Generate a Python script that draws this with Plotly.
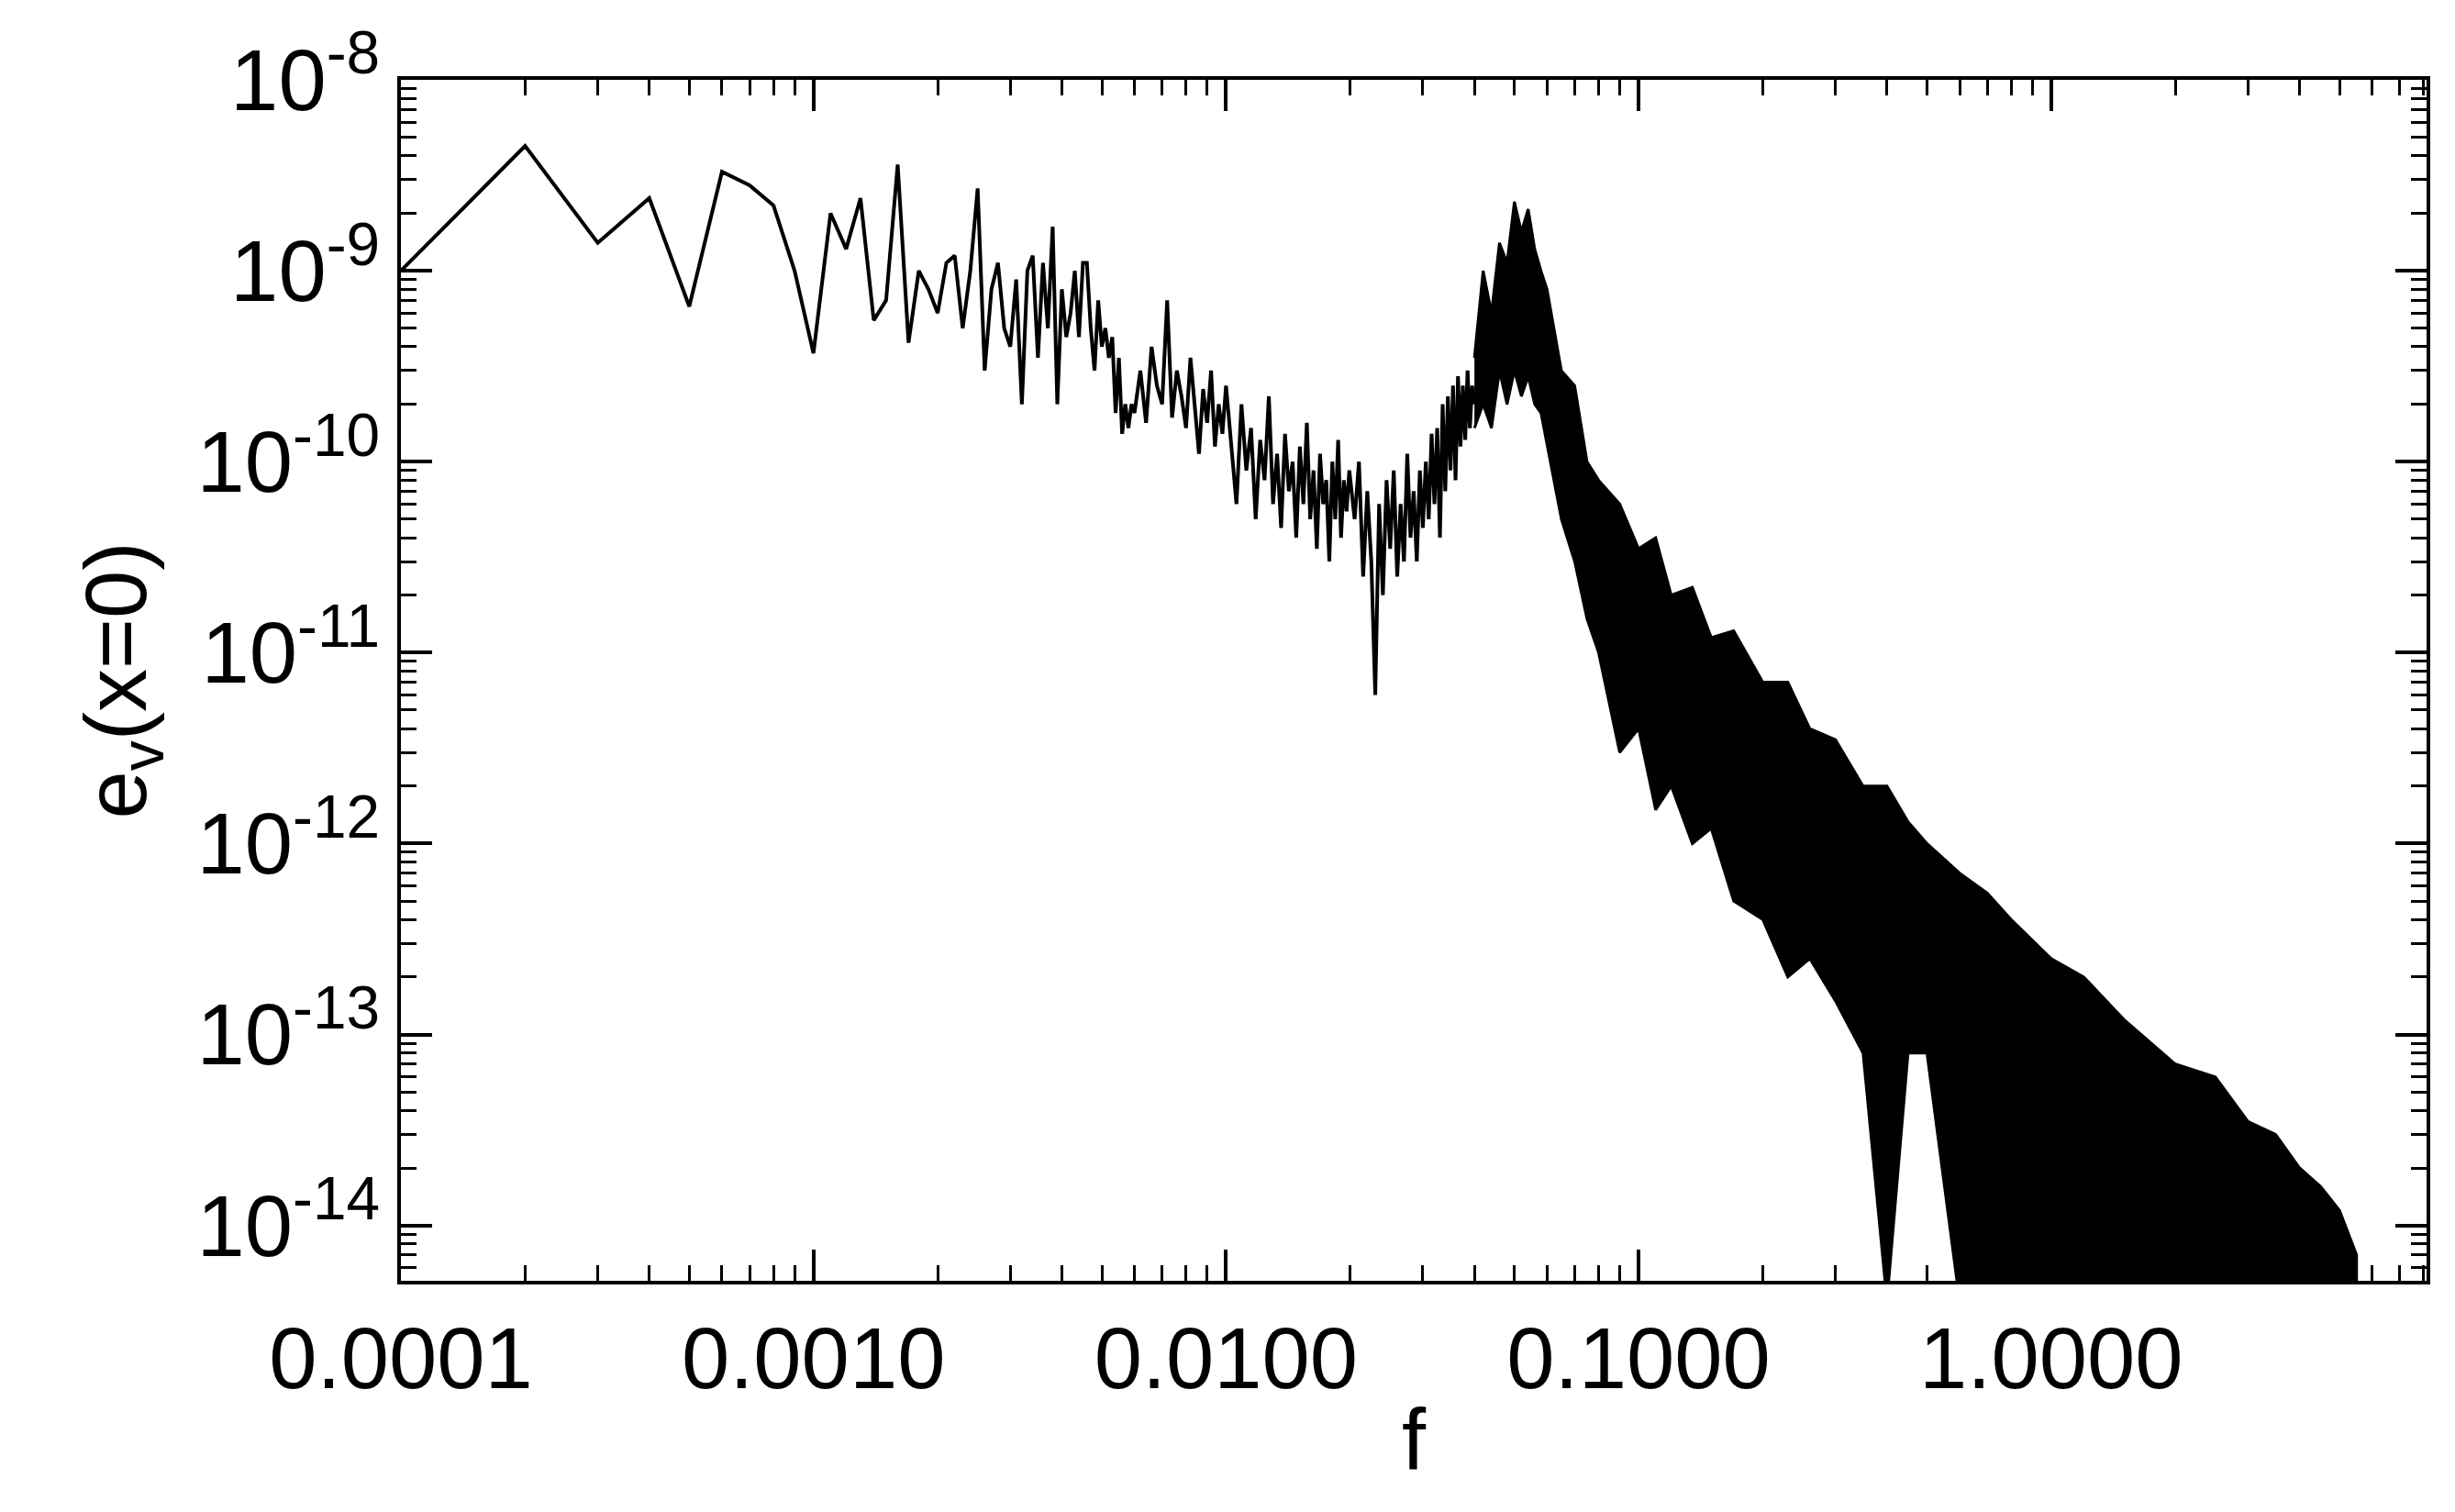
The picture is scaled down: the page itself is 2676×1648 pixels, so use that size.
import plotly.graph_objects as go

# frequency bin width
df_bin = 1e-4

# sparse low-frequency part: bin index k and spectrum value
k_low = list(range(1, 61))
ev_low = [1.0e-9, 4.5e-9, 1.4e-9, 2.4e-9, 6.5e-10, 3.3e-9, 2.8e-9, 2.2e-9, 1.0e-9, 3.7e-10,
          2.0e-9, 1.3e-9, 2.4e-9, 5.5e-10, 7.0e-10, 3.6e-9, 4.2e-10, 1.0e-9, 8.0e-10, 6.0e-10,
          1.1e-9, 1.2e-9, 5.0e-10, 1.0e-9, 2.7e-9, 3.0e-10, 8.0e-10, 1.1e-9, 5.0e-10, 4.0e-10,
          9.0e-10, 2.0e-10, 1.0e-9, 1.2e-9, 3.5e-10, 1.1e-9, 5.0e-10, 1.7e-9, 2.0e-10, 8.0e-10,
          4.5e-10, 6.0e-10, 1.0e-9, 4.5e-10, 1.1e-9, 1.1e-9, 5.0e-10, 3.0e-10, 7.0e-10, 4.0e-10,
          5.0e-10, 3.5e-10, 4.5e-10, 1.8e-10, 3.5e-10, 1.4e-10, 2.0e-10, 1.5e-10, 2.0e-10, 1.8e-10]

k_mid1 = list(range(62, 101, 2))
ev_mid1 = [3.0e-10, 1.6e-10, 4.0e-10, 2.5e-10, 2.0e-10, 7.0e-10, 1.7e-10, 3.0e-10, 2.2e-10, 1.5e-10,
           3.5e-10, 2.0e-10, 1.1e-10, 2.4e-10, 1.6e-10, 3.0e-10, 1.2e-10, 2.0e-10, 1.4e-10, 2.5e-10]

k_mid2 = list(range(103, 200, 3))
ev_mid2 = [1.2e-10, 6.0e-11, 2.0e-10, 9.0e-11, 1.5e-10, 5.0e-11, 1.3e-10, 8.0e-11, 2.2e-10, 6.0e-11,
           1.1e-10, 4.5e-11, 1.4e-10, 7.0e-11, 1.0e-10, 4.0e-11, 1.2e-10, 6.0e-11, 1.6e-10, 5.0e-11,
           9.0e-11, 3.5e-11, 1.1e-10, 6.0e-11, 8.0e-11, 3.0e-11, 1.0e-10, 5.0e-11, 1.3e-10, 4.0e-11,
           8.0e-11, 5.5e-11, 9.0e-11]

k_mid3 = list(range(205, 405, 5))
ev_mid3 = [5.0e-11, 1.0e-10, 2.5e-11, 7.0e-11, 3.0e-11, 6.0e-12, 6.0e-11, 2.0e-11, 8.0e-11, 3.5e-11,
           9.0e-11, 2.5e-11, 6.0e-11, 3.0e-11, 1.1e-10, 4.0e-11, 7.0e-11, 3.0e-11, 9.0e-11, 4.5e-11,
           1.0e-10, 5.0e-11, 1.4e-10, 6.0e-11, 1.5e-10, 4.0e-11, 2.0e-10, 7.0e-11, 2.2e-10, 9.0e-11,
           2.5e-10, 8.0e-11, 2.8e-10, 1.2e-10, 2.5e-10, 1.3e-10, 3.0e-10, 1.5e-10, 2.5e-10, 2.0e-10]

# dense part: upper and lower edge of the band of noise
f_env = [0.040, 0.042, 0.044, 0.046, 0.048, 0.050, 0.052, 0.054, 0.056, 0.058,
         0.060, 0.065, 0.070, 0.075, 0.080, 0.09, 0.10, 0.11, 0.12, 0.135,
         0.15, 0.17, 0.20, 0.23, 0.26, 0.30, 0.35, 0.40, 0.45, 0.50,
         0.60, 0.70, 0.80, 1.0, 1.2, 1.5, 2.0, 2.5, 3.0, 3.5,
         4.0, 4.5, 5.0, 5.5]
ev_upper = [3.5e-10, 1.0e-9, 6.0e-10, 1.4e-9, 1.1e-9, 2.3e-9, 1.6e-9, 2.1e-9, 1.3e-9, 1.0e-9,
            8.0e-10, 3.0e-10, 2.5e-10, 1.0e-10, 8.0e-11, 6.0e-11, 3.5e-11, 4.0e-11, 2.0e-11, 2.2e-11,
            1.2e-11, 1.3e-11, 7.0e-12, 7.0e-12, 4.0e-12, 3.5e-12, 2.0e-12, 2.0e-12, 1.3e-12, 1.0e-12,
            7.0e-13, 5.5e-13, 4.0e-13, 2.5e-13, 2.0e-13, 1.2e-13, 7.0e-14, 6.0e-14, 3.5e-14, 3.0e-14,
            2.0e-14, 1.6e-14, 1.2e-14, 7.0e-15]
ev_lower = [1.5e-10, 2.0e-10, 1.5e-10, 3.0e-10, 2.0e-10, 3.0e-10, 2.2e-10, 2.8e-10, 2.0e-10, 1.8e-10,
            1.2e-10, 5.0e-11, 3.0e-11, 1.5e-11, 1.0e-11, 3.0e-12, 4.0e-12, 1.5e-12, 2.0e-12, 1.0e-12,
            1.2e-12, 5.0e-13, 4.0e-13, 2.0e-13, 2.5e-13, 1.5e-13, 8.0e-14, 4.0e-15, 8.0e-14, 8.0e-14,
            4.0e-15, 4.0e-15, 4.0e-15, 4.0e-15, 4.0e-15, 4.0e-15, 4.0e-15, 4.0e-15, 4.0e-15, 4.0e-15,
            4.0e-15, 4.0e-15, 4.0e-15, 4.0e-15]

k_all = k_low + k_mid1 + k_mid2 + k_mid3
f_line = [k * df_bin for k in k_all]
ev_line = ev_low + ev_mid1 + ev_mid2 + ev_mid3

fig = go.Figure()
fig.add_trace(go.Scatter(x=f_line, y=ev_line, mode="lines",
                         line=dict(color="black", width=4), showlegend=False))
fig.add_trace(go.Scatter(x=f_env + f_env[::-1], y=ev_upper + ev_lower[::-1],
                         mode="lines", fill="toself", fillcolor="black",
                         line=dict(color="black", width=3), showlegend=False))

font = dict(family="Liberation Sans, Arial, sans-serif", size=94, color="black")
y_vals = [10.0 ** e for e in range(-14, -7)]
y_text = ["10<sup>%d</sup>" % e for e in range(-14, -7)]

axis_common = dict(showline=True, linecolor="black", linewidth=4, mirror="allticks",
                   ticks="inside", ticklen=34, tickwidth=4, tickcolor="black",
                   showgrid=False, zeroline=False, tickfont=font,
                   minor=dict(ticks="inside", ticklen=17, tickwidth=3, tickcolor="black",
                              dtick="D1"))

fig.update_xaxes(type="log", range=[-4, 0.91], tickvals=[1e-4, 1e-3, 1e-2, 1e-1, 1],
                 ticktext=["0.0001", "0.0010", "0.0100", "0.1000", "1.0000"],
                 title=dict(text="f", font=font, standoff=5), **axis_common)
fig.update_yaxes(type="log", range=[-14.29, -8], tickvals=y_vals, ticktext=y_text,
                 title=dict(text="e<sub>v</sub>(x=0)", font=font, standoff=25), **axis_common)

fig.update_layout(width=2676, height=1648, plot_bgcolor="white", paper_bgcolor="white",
                  margin=dict(l=429, r=39, t=76, b=260), font=font)

fig.write_html("out.html")
